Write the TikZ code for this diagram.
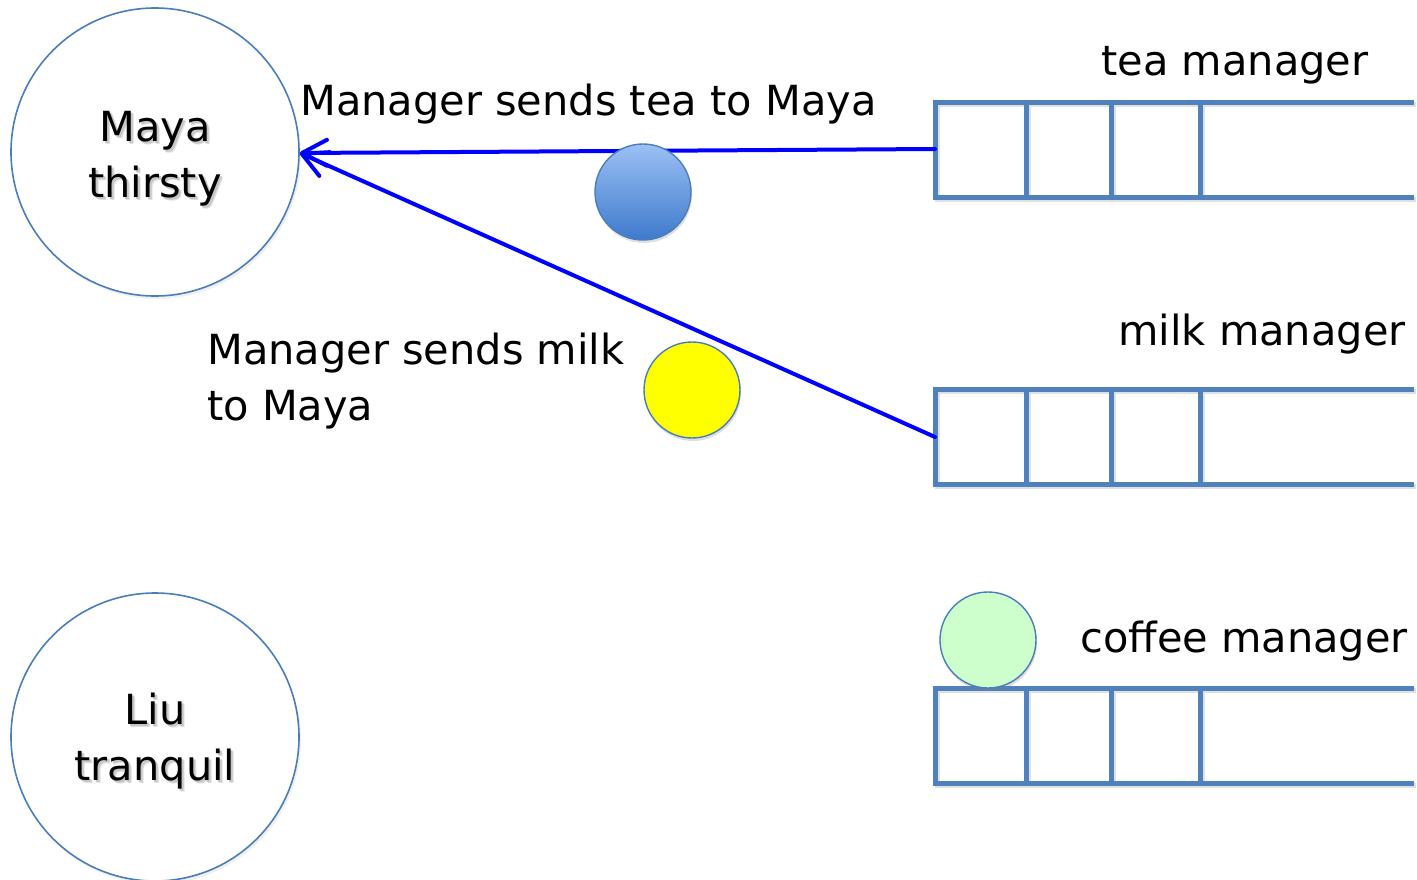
\documentclass[tikz,border=0pt]{standalone}
\usepackage{fontspec}
\setmainfont{DejaVu Sans}
\usetikzlibrary{arrows.meta,shadows}

\definecolor{qline}{RGB}{79,129,189}
\definecolor{ringline}{RGB}{74,126,187}
\definecolor{sendblue}{RGB}{0,0,255}
\definecolor{teatop}{RGB}{155,192,245}
\definecolor{teabot}{RGB}{62,122,204}
\definecolor{milkfill}{RGB}{255,255,0}
\definecolor{coffeefill}{RGB}{204,255,204}

% soft shadow under a line of text
\newcommand{\shtext}[1]{%
  \makebox[0pt][l]{\hspace{3pt}\raisebox{-3pt}{\color{black!12}#1}}%
  \makebox[0pt][l]{\hspace{2pt}\raisebox{-2pt}{\color{black!22}#1}}%
  #1}

\tikzset{
  big/.style={font=\fontsize{41.5}{56}\selectfont, inner sep=0pt},
  person/.style={circle, draw=ringline, line width=1.6pt, fill=white,
    minimum size=288pt, inner sep=0pt,
    drop shadow={opacity=0.12, shadow xshift=2pt, shadow yshift=-3pt}},
  drink/.style={circle, draw=ringline, line width=1.4pt,
    minimum size=96pt, inner sep=0pt,
    drop shadow={opacity=0.25, shadow xshift=1pt, shadow yshift=-3pt}},
  qbar/.style={draw=qline, line width=5pt},
  qshade/.style={draw=black, opacity=0.12, line width=5pt},
  send/.style={draw=sendblue, line width=4pt, line cap=round,
    -{Straight Barb[length=25pt,width=26pt,line cap=round,round]}},
}

% one queue: three cells and an open end
\newcommand{\queue}[2]{%
  \begin{scope}[shift={(0,#1)}]
    \path[qshade] (1416,2) -- (937,2) -- (937,97) -- (1416,97)
      (1028,2) -- (1028,97) (1113,2) -- (1113,97) (1202,2) -- (1202,97);
    \path[qbar] (1414,0) -- (935,0) -- (935,95) -- (1414,95)
      (1026,0) -- (1026,95) (1111,0) -- (1111,95) (1200,0) -- (1200,95);
    \coordinate (#2) at (935,47);
  \end{scope}}

\begin{document}
\begin{tikzpicture}[x=1pt,y=-1pt]
  \useasboundingbox (0,0) rectangle (1417,879);

  % customers
  \node[person] (maya) at (155,152) {};
  \node[person] (liu) at (155,737) {};
  \node[big, align=center, anchor=base] (mayatxt) at (155,197)
    {\shtext{Maya}\\\shtext{thirsty}};
  \node[big, align=center, anchor=base] (liutxt) at (155,780)
    {\shtext{Liu}\\\shtext{tranquil}};

  % managers and their queues
  \queue{102}{teaq}
  \queue{389}{milkq}
  \queue{688}{coffeeq}
  \node[big, anchor=base] (teamgr) at (1235,75) {tea manager};
  \node[big, anchor=base] (milkmgr) at (1262,345) {milk manager};
  \node[big, anchor=base] (coffeemgr) at (1244,652) {coffee manager};

  % deliveries to Maya
  \coordinate (mayain) at (300,153);
  \coordinate (teaout) at (935,149);
  \coordinate (milkout) at (935,437);
  \draw[send] (teaout) -- (mayain);
  \draw[send] (milkout) -- (mayain);
  \node[big, anchor=base west] (tealbl) at (300,115) {Manager sends tea to Maya};
  \node[big, align=left, anchor=base west] (milklbl) at (207,420)
    {Manager sends milk\\to Maya};

  % drinks
  \node[drink, top color=teatop, bottom color=teabot] (tea) at (643,192) {};
  \node[drink, fill=milkfill] (milk) at (692,390) {};
  \node[drink, fill=coffeefill] (coffee) at (988,640) {};
\end{tikzpicture}
\end{document}
